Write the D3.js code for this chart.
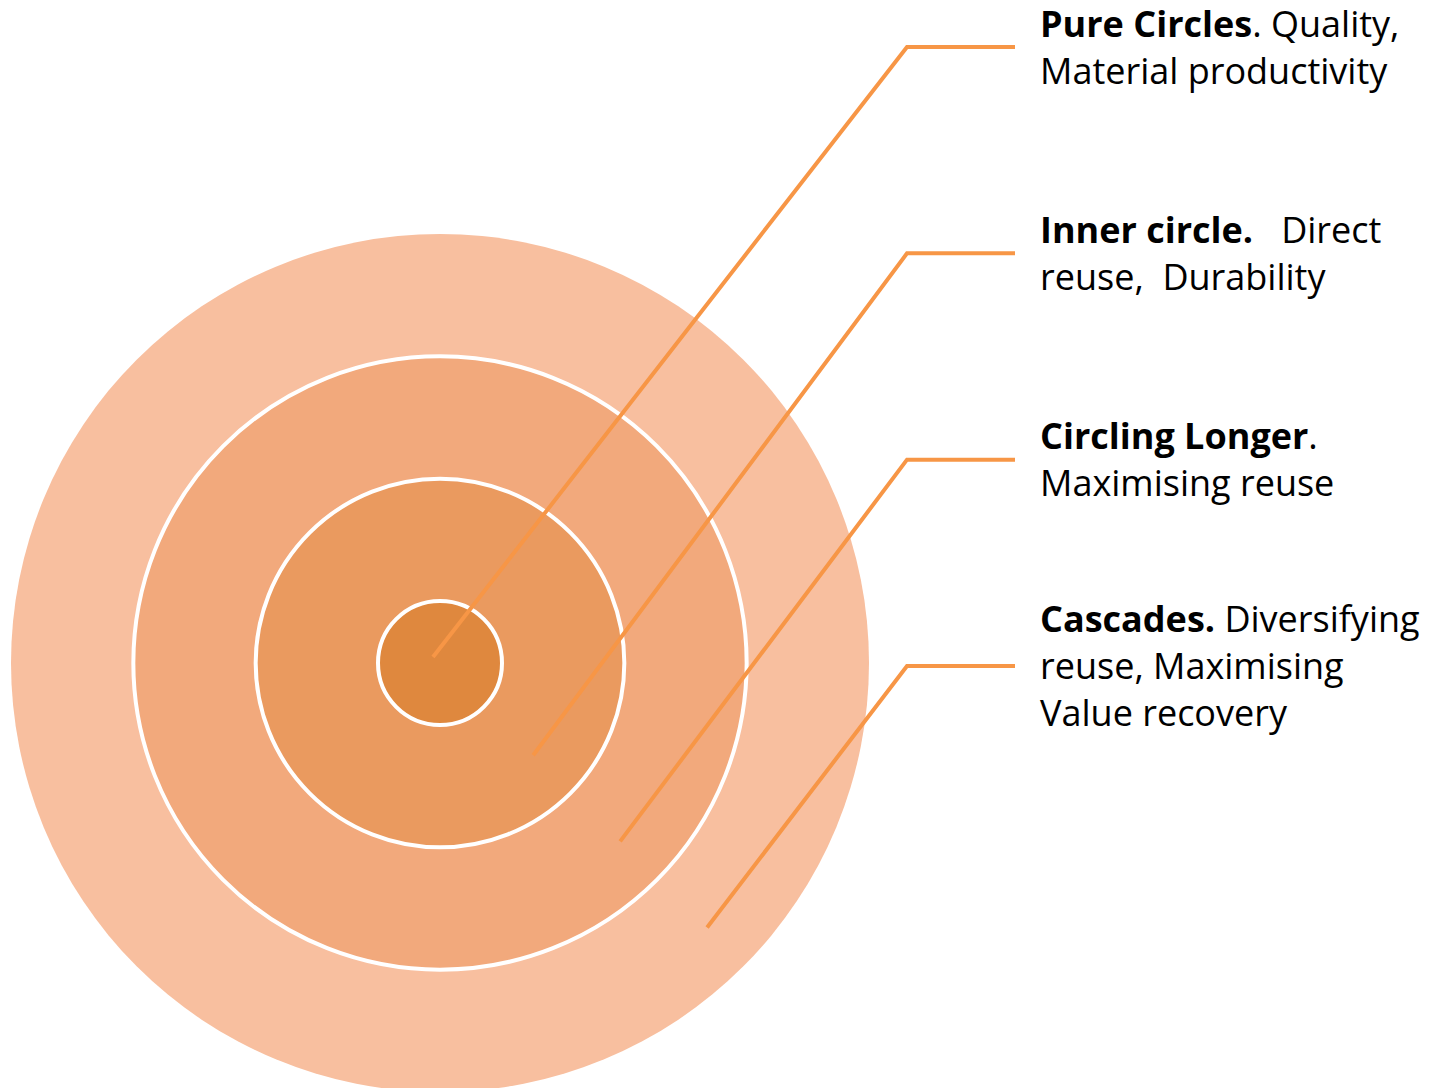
<!DOCTYPE html>
<html>
<head>
<meta charset="utf-8">
<script src="https://cdn.jsdelivr.net/npm/d3@7"></script>
<style>
  body { margin: 0; background: #fff; }
  text { font-family: "Open Sans", Lato, sans-serif; fill: #000; font-variant-ligatures: none; }
</style>
</head>
<body>
<script>
// concentric circles diagram with leader-line labels

// rings, innermost first
var rings = ["Pure Circles", "Inner circle", "Circling Longer", "Cascades"];
var ringLevel = [1, 2, 3, 4];
var ringColors = ["#df883e", "#ea9a5f", "#f2a97c", "#f8bf9f"];

// label text, one entry per ring, each line is a list of [text, bold]
var labelLines = [
    [[["Pure Circles", true], [". Quality,", false]],
     [["Material productivity", false]]],
    [[["Inner circle.", true], ["   Direct", false]],
     [["reuse,  Durability", false]]],
    [[["Circling Longer", true], [".", false]],
     [["Maximising reuse", false]]],
    [[["Cascades.", true], [" Diversifying", false]],
     [["reuse, Maximising", false]],
     [["Value recovery", false]]]
];

var width = 1429, height = 1088;
var cx = 440, cy = 663;

var svg = d3.select("body").append("svg")
    .attr("width", width)
    .attr("height", height);

// ring radius scale
var rScale = d3.scaleLinear().domain([1, 4]).range([62, 429]);

// label rows
var yScale = d3.scalePoint().domain(rings).range([47, 666]);

var g = svg.append("g").attr("transform", "translate(" + cx + "," + cy + ")");

// draw from outside in so the small ones sit on top
var order = d3.range(rings.length).reverse();
g.selectAll(".ring")
    .data(order)
    .enter().append("circle")
    .attr("class", "ring")
    .attr("r", function(i) { return rScale(ringLevel[i]); })
    .attr("fill", function(i) { return ringColors[i]; })
    .attr("stroke", function(i) { return i == rings.length - 1 ? "none" : "#fff"; })
    .attr("stroke-width", 4);

// leader lines start a bit past the middle of each band, down-right of centre
var angle = Math.PI / 4 - 0.005;
function startPoint(i) {
    if (i == 0) return [cx - 7, cy - 6];
    var inner = rScale(ringLevel[i - 1]);
    var rr = (inner + rScale(ringLevel[i])) / 2 + 8;
    return [cx + rr * Math.cos(angle), cy + rr * Math.sin(angle)];
}

var elbowX = 907, endX = 1015;
svg.selectAll(".leader")
    .data(rings)
    .enter().append("polyline")
    .attr("class", "leader")
    .attr("points", function(d, i) {
        var s = startPoint(i);
        var y = yScale(d);
        return [s, [elbowX, y], [endX, y]].map(function(p) { return p.join(","); }).join(" ");
    })
    .attr("fill", "none")
    .attr("stroke", "#f79646")
    .attr("stroke-width", 4);

// labels
var fontSize = 36, lineH = 47;
rings.forEach(function(d, i) {
    var lines = labelLines[i];
    var y0 = yScale(d) - (lines.length - 1) / 2 * lineH + 13;
    var t = svg.append("text")
        .attr("x", 1040)
        .attr("y", y0)
        .style("font-size", fontSize + "px")
        .attr("xml:space", "preserve");
    lines.forEach(function(line, li) {
        line.forEach(function(seg, si) {
            var ts = t.append("tspan")
                .style("font-weight", seg[1] ? "bold" : "normal")
                .style("white-space", "pre")
                .text(seg[0]);
            if (si == 0) ts.attr("x", 1040).attr("y", y0 + li * lineH);
        });
    });
});
</script>
</body>
</html>
